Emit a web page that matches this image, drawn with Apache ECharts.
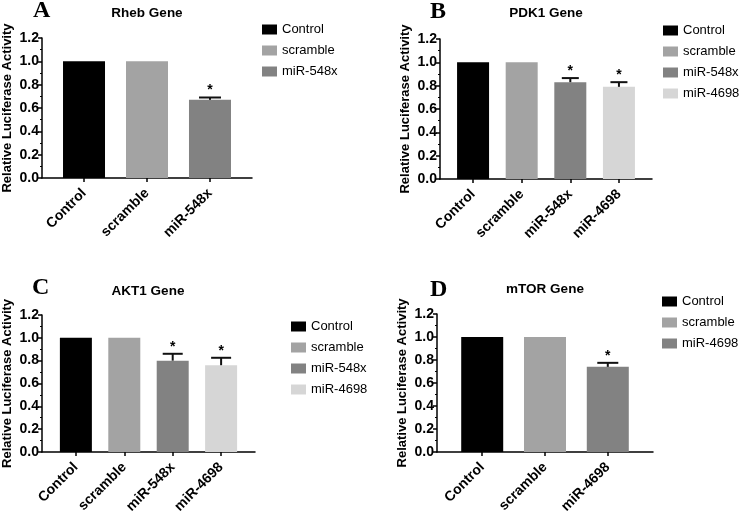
<!DOCTYPE html>
<html>
<head>
<meta charset="utf-8">
<script src="https://cdn.jsdelivr.net/npm/echarts@6/dist/echarts.min.js"></script>
<style>
html,body{margin:0;padding:0;background:#fff;}
#chart{width:747px;height:516px;}
</style>
</head>
<body>
<div id="chart"></div>
<script>
// ---- data ----
const catsA = ['Control', 'scramble', 'miR-548x'];
const valsA = [1.0, 1.0, 0.67];
const errsA = [0, 0, 0.02];
const sigA  = [0, 0, 1];

const catsB = ['Control', 'scramble', 'miR-548x', 'miR-4698'];
const valsB = [1.0, 1.0, 0.83, 0.79];
const errsB = [0, 0, 0.035, 0.04];
const sigB  = [0, 0, 1, 1];

const catsC = ['Control', 'scramble', 'miR-548x', 'miR-4698'];
const valsC = [1.0, 1.0, 0.80, 0.76];
const errsC = [0, 0, 0.06, 0.065];
const sigC  = [0, 0, 1, 1];

const catsD = ['Control', 'scramble', 'miR-4698'];
const valsD = [1.0, 1.0, 0.74];
const errsD = [0, 0, 0.035];
const sigD  = [0, 0, 1];

const panelTitles = ['Rheb Gene', 'PDK1 Gene', 'AKT1 Gene', 'mTOR Gene'];
const panelLetters = ['A', 'B', 'C', 'D'];
const yTickValues = [0, 0.2, 0.4, 0.6, 0.8, 1.0, 1.2];
const yAxisTitle = 'Relative Luciferase Activity';

// ---- styles / layout ----
const barColors = ['#000000', '#a3a3a3', '#828282', '#d6d6d6'];
const SANS = 'Liberation Sans, Arial, sans-serif';
const SERIF = 'Liberation Serif, Times New Roman, serif';

const layout = [
  {left: 42, top: 38, width: 210, height: 140, pad: 0.667, bw: 42, cap: 22,
   legend: {left: 262, top: 22}, title: {x: 147, y: 6}, letter: {x: 33, y: -1}},
  {left: 440, top: 39, width: 212, height: 140, pad: 0.68, bw: 32, cap: 17,
   legend: {left: 663, top: 23}, title: {x: 546, y: 6}, letter: {x: 430, y: 0}},
  {left: 42, top: 315, width: 213, height: 141, pad: 0.7, bw: 32, cap: 20,
   legend: {left: 291, top: 319}, title: {x: 148, y: 284}, letter: {x: 32, y: 276}},
  {left: 437, top: 314, width: 216, height: 140, pad: 0.72, bw: 42, cap: 21,
   legend: {left: 662, top: 294}, title: {x: 545, y: 282}, letter: {x: 430, y: 278}}
];

const panels = [
  {cats: catsA, vals: valsA, errs: errsA, sig: sigA},
  {cats: catsB, vals: valsB, errs: errsB, sig: sigB},
  {cats: catsC, vals: valsC, errs: errsC, sig: sigC},
  {cats: catsD, vals: valsD, errs: errsD, sig: sigD}
];

const grid = [], xAxis = [], yAxis = [], series = [], legend = [], title = [];

panels.forEach((p, k) => {
  const L = layout[k];
  const n = p.cats.length;
  const idx = p.cats.map((_, i) => i);
  grid.push({left: L.left, top: L.top, width: L.width, height: L.height, containLabel: false});
  xAxis.push({
    type: 'value', gridIndex: k, min: -L.pad, max: n - 1 + L.pad,
    splitLine: {show: false},
    axisLine: {show: true, onZero: false, lineStyle: {color: '#000', width: 1.5}},
    axisTick: {show: true, customValues: idx, length: 4, lineStyle: {color: '#000', width: 1.5}},
    axisLabel: {
      customValues: idx, rotate: 45, margin: 13,
      formatter: v => p.cats[Math.round(v)] || '',
      fontFamily: SANS, fontWeight: 'bold', fontSize: 14, color: '#000'
    }
  });
  yAxis.push({
    type: 'value', gridIndex: k, min: 0, max: 1.2, interval: 0.2,
    name: yAxisTitle, nameLocation: 'middle', nameGap: 28, nameRotate: 90,
    nameTextStyle: {fontFamily: SANS, fontWeight: 'bold', fontSize: 13, color: '#000'},
    splitLine: {show: false},
    axisLine: {show: true, onZero: false, lineStyle: {color: '#000', width: 1.5}},
    axisTick: {show: true, length: 4, lineStyle: {color: '#000', width: 1.5}},
    minorTick: {show: true, splitNumber: 2, length: 2, lineStyle: {color: '#000', width: 1}},
    axisLabel: {
      margin: 3, fontFamily: SANS, fontWeight: 'bold', fontSize: 14, color: '#000',
      formatter: v => yTickValues.some(t => Math.abs(t - v) < 1e-6) ? v.toFixed(1) : ''
    }
  });
  p.cats.forEach((c, i) => {
    series.push({
      type: 'bar', name: c, xAxisIndex: k, yAxisIndex: k,
      barWidth: L.bw, barGap: '-100%',
      itemStyle: {color: barColors[i]},
      data: [[i, p.vals[i]]],
      silent: true
    });
  });
  const errData = [];
  p.vals.forEach((v, i) => { if (p.errs[i] > 0) errData.push([i, v, p.errs[i], p.sig[i]]); });
  series.push({
    type: 'custom', xAxisIndex: k, yAxisIndex: k, silent: true, z: 5,
    data: errData,
    renderItem: (params, api) => {
      const x = api.value(0), v = api.value(1), e = api.value(2), s = api.value(3);
      const p0 = api.coord([x, v]);
      const p1 = api.coord([x, v + e]);
      const children = [
        {type: 'line', shape: {x1: p0[0], y1: p0[1], x2: p1[0], y2: p1[1]}, style: {stroke: '#111', lineWidth: 2}},
        {type: 'line', shape: {x1: p1[0] - L.cap / 2, y1: p1[1], x2: p1[0] + L.cap / 2, y2: p1[1]}, style: {stroke: '#111', lineWidth: 2}}
      ];
      if (s) {
        children.push({type: 'text', style: {text: '*', x: p1[0], y: p1[1] - 7, align: 'center', verticalAlign: 'middle',
          font: 'bold 14px ' + SANS, fill: '#000'}});
      }
      return {type: 'group', children: children};
    }
  });
  legend.push({
    orient: 'vertical', left: L.legend.left, top: L.legend.top, padding: 0,
    itemWidth: 15, itemHeight: 10, itemGap: 6, selectedMode: false,
    textStyle: {fontFamily: SANS, fontSize: 13, color: '#000', lineHeight: 15},
    data: p.cats.map((c, i) => ({name: c, icon: 'rect', itemStyle: {color: barColors[i]}}))
  });
  title.push({
    text: panelTitles[k], left: L.title.x, top: L.title.y, textAlign: 'center', padding: 0,
    textStyle: {fontFamily: SANS, fontWeight: 'bold', fontSize: 13.5, color: '#000'}
  });
  title.push({
    text: panelLetters[k], left: L.letter.x, top: L.letter.y, padding: 0,
    textStyle: {fontFamily: SERIF, fontWeight: 'bold', fontSize: 24, color: '#000'}
  });
});

const chart = echarts.init(document.getElementById('chart'), null, {renderer: 'canvas'});
chart.setOption({
  backgroundColor: '#fff',
  animation: false,
  title: title,
  grid: grid,
  xAxis: xAxis,
  yAxis: yAxis,
  legend: legend,
  series: series
});
</script>
</body>
</html>
